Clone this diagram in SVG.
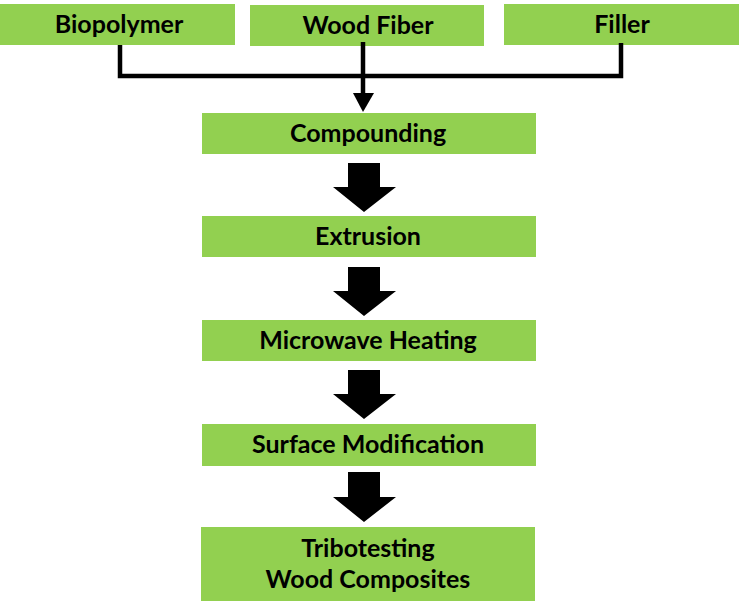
<svg xmlns="http://www.w3.org/2000/svg" width="739" height="612" viewBox="0 0 739 612">
<style>
.box{fill:#92D050}
.t{font-family:Lato,"Liberation Sans",sans-serif;font-weight:700;font-size:25px;fill:#000;text-anchor:middle}
.ln{fill:none;stroke:#000;stroke-width:4.5}
</style>
<rect width="739" height="612" fill="#fff"/>
<g id="biopolymer"><rect class="box" x="0" y="4" width="235" height="41"/><text class="t" x="119" y="33">Biopolymer</text></g>
<g id="woodfiber"><rect class="box" x="250" y="5" width="234" height="41"/><text class="t" x="368" y="34">Wood Fiber</text></g>
<g id="filler"><rect class="box" x="504" y="4" width="235" height="41"/><text class="t" x="622" y="33">Filler</text></g>
<g id="compounding"><rect class="box" x="202" y="113" width="334" height="41"/><text class="t" x="368" y="142">Compounding</text></g>
<g id="extrusion"><rect class="box" x="202" y="216" width="334" height="41"/><text class="t" x="368" y="245">Extrusion</text></g>
<g id="microwave"><rect class="box" x="202" y="320" width="334" height="41"/><text class="t" x="368" y="349">Microwave Heating</text></g>
<g id="surface"><rect class="box" x="202" y="424" width="334" height="42"/><text class="t" x="368" y="453">Surface Modification</text></g>
<g id="tribotesting"><rect class="box" x="201" y="527" width="334" height="74"/><text class="t" x="368" y="557">Tribotesting</text><text class="t" x="368" y="588">Wood Composites</text></g>
<g id="connectors">
<path class="ln" d="M120 45V76H621V43"/>
<path class="ln" d="M363 42V95"/>
<polygon points="353,93 374,93 363,112"/>
<polygon points="348,163 380,163 380,187 396,187 364,212 333,187 348,187"/>
<polygon points="348,267 380,267 380,291 396,291 364,316 333,291 348,291"/>
<polygon points="348,370 380,370 380,394 396,394 364,419 333,394 348,394"/>
<polygon points="348,472 380,472 380,497 396,497 364,522 333,497 348,497"/>
</g>
</svg>
